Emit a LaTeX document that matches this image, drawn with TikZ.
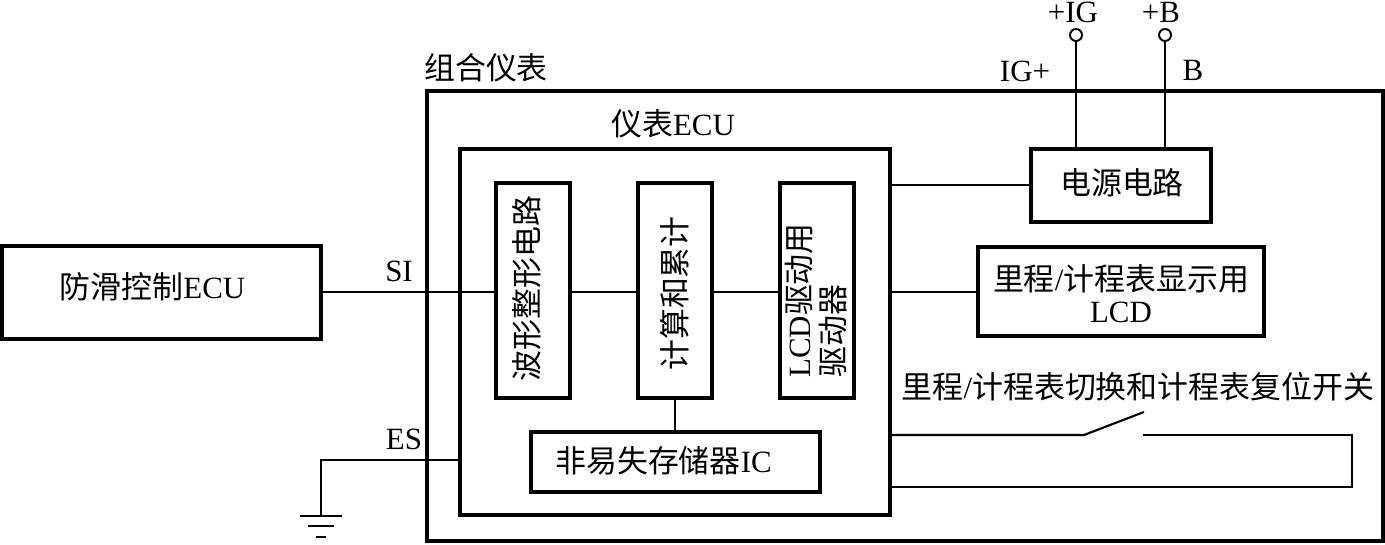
\documentclass[tikz,border=0pt]{standalone}
\usepackage{fontspec}
\setmainfont{Liberation Serif}
\newfontfamily\cjk{Noto Sans CJK SC}
\newcommand{\nudge}[3]{\raisebox{#2}[\height][\depth]{\hspace*{#1}#3\hspace*{-#1}}}
\tikzset{
  blockbox/.style={draw,line width=2.2pt,inner sep=0pt,outer sep=0pt},
  tag/.style={inner sep=0pt,outer sep=0pt},
  wire/.style={line width=1.2pt},
  portdot/.style={draw,circle,line width=1.1pt,minimum size=0.24cm,inner sep=0pt,outer sep=0pt},
}
\begin{document}
\begin{tikzpicture}[x=0.02cm,y=-0.02cm,font=\fontsize{17.6pt}{18.4pt}\selectfont]
\useasboundingbox (0,0) rectangle (1385,544);
% blocks
\node[blockbox,minimum width=19.12cm,minimum height=9cm] (cluster) at (905,316) {};
\node[blockbox,minimum width=8.6cm,minimum height=7.32cm] (meterecu) at (675,332) {};
\node[blockbox,minimum width=6.38cm,minimum height=1.86cm] (absecu) at (161.5,292.5) {\nudge{-0.18cm}{0.12cm}{{\cjk 防滑控制}ECU}};
\node[blockbox,minimum width=4.3cm,minimum height=1.48cm,rotate=90] (wavebox) at (533,290.5) {\nudge{0.04cm}{0.12cm}{\cjk 波形整形电路}};
\node[blockbox,minimum width=4.3cm,minimum height=1.48cm,rotate=90] (calcbox) at (675,290.5) {\nudge{-0.06cm}{0cm}{\cjk 计算和累计}};
\node[blockbox,minimum width=4.3cm,minimum height=1.48cm,rotate=90,align=left,font=\fontsize{17.6pt}{19.8pt}\selectfont] (drvbox) at (817,290.5) {\nudge{-0.2cm}{0.02cm}{LCD{\cjk 驱动用}}\\\nudge{-0.2cm}{0.02cm}{\cjk 驱动器}};
\node[blockbox,minimum width=5.78cm,minimum height=1.2cm] (nvmbox) at (675.5,462) {\nudge{-0.24cm}{0.02cm}{{\cjk 非易失存储器}IC}};
\node[blockbox,minimum width=3.6cm,minimum height=1.46cm] (powerbox) at (1121,185.5) {\nudge{0.02cm}{0.06cm}{\cjk 电源电路}};
\node[blockbox,minimum width=5.72cm,minimum height=1.78cm,align=center] (lcdbox) at (1121,291.5) {\nudge{0cm}{-0.04cm}{{\cjk 里程}/{\cjk 计程表显示用}}\\\nudge{0cm}{-0.04cm}{LCD}};
% ports
\node[portdot] (igport) at (1076,35) {};
\node[portdot] (bport) at (1165,35) {};
% labels
\node[tag] (clustertag) at (486,68) {\cjk 组合仪表};
\node[tag] (ecutag) at (673,124) {{\cjk 仪表}ECU};
\node[tag] (igtop) at (1073,12) {+IG};
\node[tag] (btop) at (1161,12) {+B};
\node[tag] (igtag) at (1025,71) {IG+};
\node[tag] (btag) at (1193,70) {B};
\node[tag] (sitag) at (399,271) {SI};
\node[tag] (estag) at (404,439) {ES};
\node[tag] (swtag) at (1138,387) {{\cjk 里程}/{\cjk 计程表切换和计程表复位开关}};
% connectors
\coordinate (siline) at (0,292);
\draw[wire] (absecu.east |- siline) -- (wavebox.north |- siline);
\draw[wire] (wavebox.south |- siline) -- (calcbox.north |- siline);
\draw[wire] (calcbox.south |- siline) -- (drvbox.north |- siline);
\draw[wire] (meterecu.east |- siline) -- (lcdbox.west |- siline);
\draw[wire] (calcbox.west) -- (calcbox.west |- nvmbox.north);
\draw[wire] (igport) -- (igport |- powerbox.north);
\draw[wire] (bport) -- (bport |- powerbox.north);
\draw[wire] (meterecu.east |- 0,185) -- (powerbox.west |- 0,185);
% switch
\coordinate (swhinge) at (1084,435);
\coordinate (swtip) at (1144,412);
\coordinate (swcontact) at (1143,435);
\coordinate (swcorner) at (1352,435);
\coordinate (swreturn) at (1352,487);
\draw[wire] (meterecu.east |- swhinge) -- (swhinge) -- (swtip);
\draw[wire] (swcontact) -- (swcorner) -- (swreturn) -- (meterecu.east |- swreturn);
% ground
\coordinate (esline) at (0,460);
\coordinate (gndtop) at (321,516);
\draw[wire] (meterecu.west |- esline) -- (gndtop |- esline) -- (gndtop);
\foreach \yy/\hw in {516/21,526/13,537/5} {
  \draw[wire] (321-\hw,\yy) -- (321+\hw,\yy);
}
\end{tikzpicture}
\end{document}
